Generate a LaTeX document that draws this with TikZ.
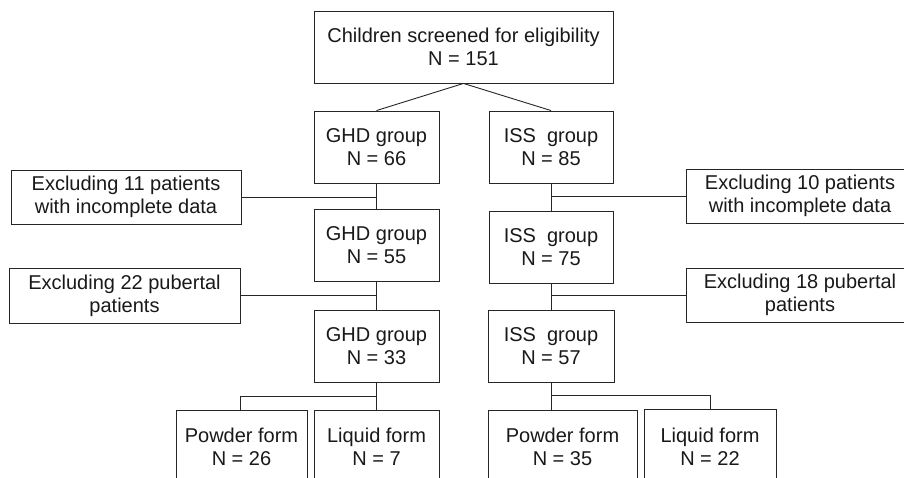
\documentclass[tikz,border=0pt]{standalone}
\usepackage{fontspec}
\setmainfont{Liberation Sans}
\begin{document}
\begin{tikzpicture}[x=1pt,y=-1pt,
  box/.style={draw=black!85, line width=0.9pt, align=center, inner sep=0pt,
    font=\fontsize{20}{23}\selectfont, text=black!90},
  link/.style={draw=black!85, line width=0.9pt}]
\fill[white] (0,0) rectangle (904,478);
\clip (0,0) rectangle (904,478);
% main boxes
\node[box, minimum width=299pt, minimum height=72pt] (top) at (463.5,47) {Children screened for eligibility\\N = 151};
\node[box, minimum width=125pt, minimum height=72pt] (g1) at (376.5,147) {GHD group\\N = 66};
\node[box, minimum width=124pt, minimum height=72pt] (i1) at (551,147) {ISS\ \ group\\N = 85};
\node[box, minimum width=125pt, minimum height=72pt] (g2) at (376.5,245) {GHD group\\N = 55};
\node[box, minimum width=124pt, minimum height=72pt] (i2) at (551,247) {ISS\ \ group\\N = 75};
\node[box, minimum width=125pt, minimum height=72pt] (g3) at (376.5,346) {GHD group\\N = 33};
\node[box, minimum width=126pt, minimum height=72pt] (i3) at (551,346) {ISS\ \ group\\N = 57};
% exclusion boxes
\node[box, minimum width=230pt, minimum height=54pt] (el1) at (126,197) {Excluding 11 patients\\with incomplete data};
\node[box, minimum width=231pt, minimum height=55pt] (el2) at (124.5,295.5) {Excluding 22 pubertal\\patients};
\node[box, minimum width=228pt, minimum height=54pt] (er1) at (800,196) {Excluding 10 patients\\with incomplete data};
\node[box, minimum width=228pt, minimum height=54pt] (er2) at (800,295) {Excluding 18 pubertal\\patients};
% bottom boxes
\node[box, minimum width=131pt, minimum height=74pt] (p1) at (241.5,447) {Powder form\\N = 26};
\node[box, minimum width=125pt, minimum height=74pt] (l1) at (376.5,447) {Liquid form\\N = 7};
\node[box, minimum width=149pt, minimum height=74pt] (p2) at (562.5,447) {Powder form\\N = 35};
\node[box, minimum width=132pt, minimum height=74pt] (l2) at (710,446.5) {Liquid form\\N = 22};
% connectors
\draw[link] (top.south) -- (g1.north);
\draw[link] (top.south) -- (i1.north);
\draw[link] (g1.south) -- (g2.north);
\draw[link] (g2.south) -- (g3.north);
\draw[link] (i1.south) -- (i2.north);
\draw[link] (i2.south) -- (i3.north);
\draw[link] (el1.east) -- (el1.east -| g1.south);
\draw[link] (el2.east) -- (el2.east -| g2.south);
\draw[link] (er1.west) -- (er1.west -| i1.south);
\draw[link] (er2.west) -- (er2.west -| i2.south);
\coordinate (gj) at ([yshift=-14pt]g3.south);
\coordinate (ij) at ([yshift=-13pt]i3.south);
\draw[link] (g3.south) -- (l1.north);
\draw[link] (gj) -| ([xshift=-1.5pt]p1.north);
\draw[link] (i3.south) -- (i3.south |- p2.north);
\draw[link] (ij) -| (l2.north);
\end{tikzpicture}
\end{document}
